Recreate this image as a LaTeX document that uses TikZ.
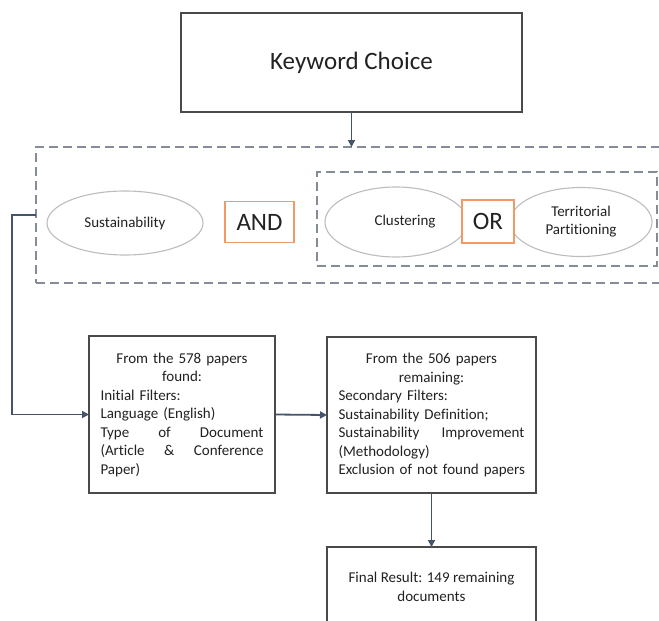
\documentclass[tikz,border=0pt]{standalone}
\usepackage{fontspec}
\setmainfont{Carlito}[Ligatures=NoCommon]
\usetikzlibrary{arrows.meta,shapes.geometric}
\definecolor{txt}{HTML}{222222}
\definecolor{boxc}{HTML}{4A4A4A}
\definecolor{dashc}{HTML}{858B98}
\definecolor{ovalc}{HTML}{BDBDBD}
\definecolor{orng}{HTML}{F09A66}
\definecolor{arrc}{HTML}{44546A}
\begin{document}
\begin{tikzpicture}[x=1pt,y=-1pt,
  every node/.style={text=txt, inner sep=0pt, outer sep=0pt},
  frame/.style={draw=boxc, line width=1.5pt, fill=white},
  dbox/.style={draw=dashc, dash pattern=on 9pt off 5pt, line width=1.3pt},
  oval/.style={ellipse, draw=ovalc, line width=1.1pt, fill=white, font=\fontsize{15}{18}\selectfont, align=center},
  opbox/.style={draw=orng, line width=1.5pt, fill=white, font=\fontsize{25}{30}\selectfont},
  conn/.style={draw=arrc, line width=1.8pt, -{Triangle[length=7pt,width=7pt]}},
  body/.style={frame, font=\fontsize{15}{18.5}\selectfont, align=left, inner xsep=11.5pt},
]
\useasboundingbox (0,0) rectangle (659,621);
\clip (0,0) rectangle (659,621);
\fill[white] (0,0) rectangle (659,621);

\node[frame, minimum width=341pt, minimum height=99pt, font=\fontsize{25}{30}\selectfont] (kw) at (351.5,62.5) {Keyword Choice};

\node[dbox, minimum width=664pt, minimum height=136pt] (outer) at (368,215) {};
\node[dbox, minimum width=340pt, minimum height=94pt] (inner) at (487,219) {};

\node[oval, minimum width=156pt, minimum height=64pt] (sus) at (125,223) {Sustainability};
\node[opbox, minimum width=69pt, minimum height=41pt] (and) at (259.5,222) {AND};
\node[oval, minimum width=142pt, minimum height=70pt] (clu) at (396,222) {\hspace*{18pt}Clustering};
\node[oval, minimum width=142pt, minimum height=69pt] (ter) at (581,222) {Territorial\\Partitioning};
\node[opbox, minimum width=52pt, minimum height=43pt] (or) at (488,221.5) {OR};

\node[body, text width=163pt, minimum height=157pt] (b1) at (182,414.5) {%
\makebox[163pt][c]{From the 578 papers}\\
\makebox[163pt][c]{found:}\\
\mbox{Initial Filters:}\\
\mbox{Language (English)}\\
\makebox[163pt][l]{Type\hfill of\hfill Document}\\
\makebox[163pt][l]{(Article\hfill\&\hfill Conference}\\
\mbox{Paper)}};

\node[body, text width=186pt, minimum height=156pt] (b2) at (431.5,415) {%
\makebox[186pt][c]{From the 506 papers}\\
\makebox[186pt][c]{remaining:}\\
\mbox{Secondary Filters:}\\
\mbox{Sustainability Definition;}\\
\makebox[186pt][l]{Sustainability\hfill Improvement}\\
\mbox{(Methodology)}\\
\mbox{Exclusion of not found papers}};

\node[frame, minimum width=209pt, minimum height=80pt, font=\fontsize{15}{18.5}\selectfont, align=center] (b3) at (431.5,587) {Final Result: 149 remaining\\documents};

\draw[conn] (kw.south) -- (kw.south |- outer.north);
\draw[conn] (outer.west) -- ++(-24,0) |- (b1.west);
\draw[conn] (b1.east) -- (b2.west);
\draw[conn] (b2.south) -- (b3.north);
\end{tikzpicture}
\end{document}
